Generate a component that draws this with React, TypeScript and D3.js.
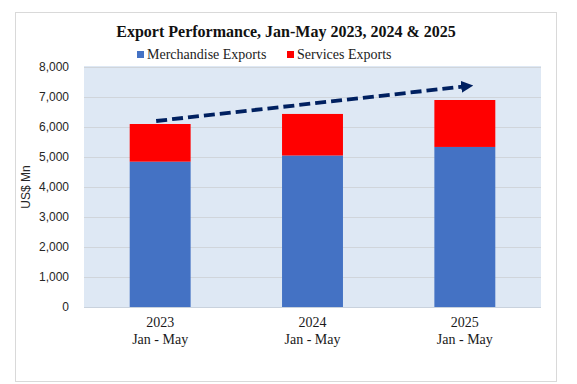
import { useRef, useEffect } from "react";
import * as d3 from "d3";

const years = ["2023", "2024", "2025"];
const periodLabel = "Jan - May";
const merchandise = [4845, 5050, 5335];
const services = [1255, 1385, 1565];
const yTicks = [0, 1000, 2000, 3000, 4000, 5000, 6000, 7000, 8000];
// trend arrow start/end values (US$ Mn)
const trendFrom = 6200;
const trendTo = 7370;

const App = () => {
  const svgRef = useRef(null);

  useEffect(() => {
    const svg = d3.select(svgRef.current);
    svg.selectAll("*").remove();

    const width = 577;
    const height = 384;
    const margin = { top: 67, right: 36, bottom: 77, left: 84 };

    svg.attr("width", width).attr("height", height);

    // outer chart frame
    svg
      .append("rect")
      .attr("x", 15.5)
      .attr("y", 12.5)
      .attr("width", 541)
      .attr("height", 369)
      .attr("fill", "white")
      .attr("stroke", "#d9d9d9");

    const x = d3
      .scaleBand()
      .domain(years)
      .range([margin.left, width - margin.right])
      .paddingInner(0.6)
      .paddingOuter(0.3);

    const y = d3
      .scaleLinear()
      .domain([0, 8000])
      .range([height - margin.bottom, margin.top]);

    // plot background
    svg
      .append("rect")
      .attr("x", margin.left)
      .attr("y", margin.top - 1)
      .attr("width", width - margin.right - margin.left)
      .attr("height", y(0) - margin.top + 1)
      .attr("fill", "#dee8f4");

    // grid lines
    svg
      .append("g")
      .selectAll("line")
      .data(yTicks)
      .enter()
      .append("line")
      .attr("x1", margin.left)
      .attr("x2", width - margin.right)
      .attr("y1", (d) => Math.round(y(d)) + 0.5)
      .attr("y2", (d) => Math.round(y(d)) + 0.5)
      .attr("stroke", (d) => (d === 0 ? "#c9d2dd" : "#d0d5db"))
      .attr("stroke-width", 1);

    // y tick labels
    svg
      .append("g")
      .selectAll("text")
      .data(yTicks)
      .enter()
      .append("text")
      .attr("x", 69)
      .attr("y", (d) => y(d))
      .attr("dy", "0.35em")
      .attr("text-anchor", "end")
      .attr("font-family", "Liberation Sans, Arial, sans-serif")
      .attr("font-size", 12)
      .attr("fill", "#262626")
      .text((d) => d3.format(",")(d));

    svg
      .append("text")
      .attr("transform", `translate(30,${(y(0) + y(8000)) / 2}) rotate(-90)`)
      .attr("text-anchor", "middle")
      .attr("font-family", "Liberation Sans, Arial, sans-serif")
      .attr("font-size", 12)
      .attr("fill", "#262626")
      .text("US$ Mn");

    const rows = years.map((yr, i) => ({
      year: yr,
      merch: merchandise[i],
      serv: services[i],
    }));

    // stacked bars
    svg
      .append("g")
      .selectAll("rect")
      .data(rows)
      .enter()
      .append("rect")
      .attr("x", (d) => x(d.year))
      .attr("width", x.bandwidth())
      .attr("y", (d) => y(d.merch))
      .attr("height", (d) => y(0) - y(d.merch))
      .attr("fill", "#4472c4");

    svg
      .append("g")
      .selectAll("rect")
      .data(rows)
      .enter()
      .append("rect")
      .attr("x", (d) => x(d.year))
      .attr("width", x.bandwidth())
      .attr("y", (d) => y(d.merch + d.serv))
      .attr("height", (d) => y(d.merch) - y(d.merch + d.serv))
      .attr("fill", "#ff0000");

    // x labels
    const xl = svg
      .append("g")
      .selectAll("text")
      .data(years)
      .enter()
      .append("text")
      .attr("x", (d) => x(d) + x.bandwidth() / 2)
      .attr("text-anchor", "middle")
      .attr("font-family", "Liberation Serif, Times New Roman, serif")
      .attr("font-size", 14)
      .attr("fill", "#1a1a1a");
    xl.append("tspan")
      .attr("x", (d) => x(d) + x.bandwidth() / 2)
      .attr("y", 327)
      .text((d) => d);
    xl.append("tspan")
      .attr("x", (d) => x(d) + x.bandwidth() / 2)
      .attr("y", 344)
      .text(periodLabel);

    // trend arrow
    svg
      .append("defs")
      .append("marker")
      .attr("id", "arrowHead")
      .attr("viewBox", "0 0 10 10")
      .attr("refX", 3)
      .attr("refY", 5)
      .attr("markerWidth", 3.2)
      .attr("markerHeight", 3.2)
      .attr("orient", "auto")
      .append("path")
      .attr("d", "M0,0 L10,5 L0,10 Z")
      .attr("fill", "#002060");

    svg
      .append("line")
      .attr("x1", x(years[0]) + x.bandwidth() / 2 - 4)
      .attr("y1", y(trendFrom))
      .attr("x2", x(years[2]) + x.bandwidth() / 2)
      .attr("y2", y(trendTo) + 0.5)
      .attr("stroke", "#002060")
      .attr("stroke-width", 3.8)
      .attr("stroke-dasharray", "11,5")
      .attr("marker-end", "url(#arrowHead)");

    // title
    svg
      .append("text")
      .attr("x", 286)
      .attr("y", 37)
      .attr("text-anchor", "middle")
      .attr("font-family", "Liberation Serif, Times New Roman, serif")
      .attr("font-weight", "bold")
      .attr("font-size", 16)
      .attr("fill", "#111")
      .text("Export Performance, Jan-May 2023, 2024 & 2025");

    // legend
    const legend = [
      { label: "Merchandise Exports", color: "#4472c4", x: 137 },
      { label: "Services Exports", color: "#ff0000", x: 287 },
    ];
    const lg = svg.append("g").selectAll("g").data(legend).enter().append("g");
    lg.append("rect")
      .attr("x", (d) => d.x)
      .attr("y", 51)
      .attr("width", 7)
      .attr("height", 7)
      .attr("fill", (d) => d.color);
    lg.append("text")
      .attr("x", (d) => d.x + 10)
      .attr("y", 58.5)
      .attr("font-family", "Liberation Serif, Times New Roman, serif")
      .attr("font-size", 14)
      .attr("fill", "#222")
      .text((d) => d.label);
  }, []);

  return (
    <svg
      ref={svgRef}
      style={{ position: "absolute", left: 0, top: 0, display: "block" }}
    ></svg>
  );
};

export default App;
